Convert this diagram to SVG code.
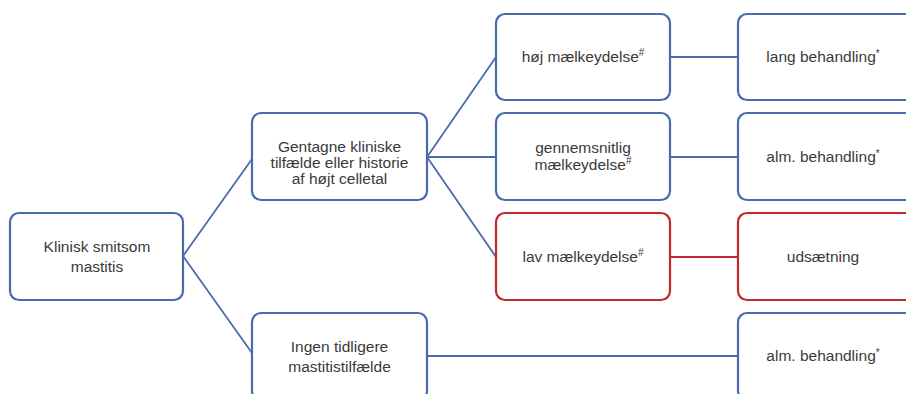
<svg xmlns="http://www.w3.org/2000/svg" width="906" height="394" viewBox="0 0 906 394">
<style>
.box{fill:#ffffff;stroke:#4a6aad;stroke-width:2.2}
.red{fill:#ffffff;stroke:#c0282e;stroke-width:2.2}
.ln{stroke:#4a6aad;stroke-width:1.8;fill:none}
.lnr{stroke:#c0282e;stroke-width:1.8;fill:none}
text{font-family:"Liberation Sans",Arial,sans-serif;font-size:15.5px;fill:#3a3a3a;text-anchor:middle}
.sup{font-size:10px}
</style>
<rect width="906" height="394" fill="#ffffff"/>
<g id="connectors">
<line class="ln" x1="183" y1="256" x2="252" y2="159"/>
<line class="ln" x1="183" y1="256" x2="252" y2="353"/>
<line class="ln" x1="427" y1="157" x2="496" y2="57"/>
<line class="ln" x1="427" y1="157" x2="496" y2="157"/>
<line class="ln" x1="427" y1="157" x2="496" y2="257"/>
<line class="ln" x1="670" y1="57" x2="738" y2="57"/>
<line class="ln" x1="670" y1="157" x2="738" y2="157"/>
<line class="lnr" x1="670" y1="257" x2="738" y2="257"/>
<line class="ln" x1="427" y1="356" x2="738" y2="356"/>
</g>
<g id="n-klinisk">
<rect class="box" x="10" y="213" width="173" height="87" rx="9"/>
<text x="97" y="252">Klinisk smitsom</text>
<text x="97" y="272">mastitis</text>
</g>
<g id="n-gentagne">
<rect class="box" x="252" y="113" width="175" height="87" rx="9"/>
<text x="339.5" y="152">Gentagne kliniske</text>
<text x="339.5" y="168">tilfælde eller historie</text>
<text x="339.5" y="184">af højt celletal</text>
</g>
<g id="n-ingen">
<rect class="box" x="252" y="313" width="175" height="87" rx="9"/>
<text x="339.5" y="352">Ingen tidligere</text>
<text x="339.5" y="372">mastitistilfælde</text>
</g>
<g id="n-hoj">
<rect class="box" x="496" y="14" width="174" height="86" rx="9"/>
<text x="583" y="62">høj mælkeydelse<tspan class="sup" dy="-6">#</tspan></text>
</g>
<g id="n-gennem">
<rect class="box" x="496" y="113" width="174" height="87" rx="9"/>
<text x="583" y="153">gennemsnitlig</text>
<text x="583" y="170">mælkeydelse<tspan class="sup" dy="-6">#</tspan></text>
</g>
<g id="n-lav">
<rect class="red" x="496" y="213" width="174" height="87" rx="9"/>
<text x="583" y="262">lav mælkeydelse<tspan class="sup" dy="-6">#</tspan></text>
</g>
<g id="n-lang">
<rect class="box" x="738" y="14" width="180" height="86" rx="9"/>
<text x="823" y="62">lang behandling<tspan class="sup" dy="-5">*</tspan></text>
</g>
<g id="n-alm1">
<rect class="box" x="738" y="113" width="180" height="87" rx="9"/>
<text x="823" y="162">alm. behandling<tspan class="sup" dy="-5">*</tspan></text>
</g>
<g id="n-uds">
<rect class="red" x="738" y="213" width="180" height="87" rx="9"/>
<text x="823" y="262">udsætning</text>
</g>
<g id="n-alm2">
<rect class="box" x="738" y="313" width="180" height="87" rx="9"/>
<text x="823" y="361">alm. behandling<tspan class="sup" dy="-5">*</tspan></text>
</g>
</svg>
